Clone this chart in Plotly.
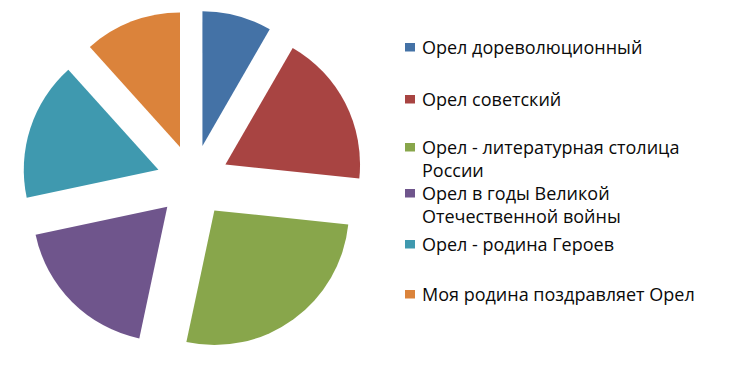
import plotly.graph_objects as go

labels = [
    "Орел дореволюционный",
    "Орел советский",
    "Орел - литературная столица России",
    "Орел в годы Великой Отечественной войны",
    "Орел - родина Героев",
    "Моя родина поздравляет Орел",
]
legend_lines = [
    ["Орел дореволюционный"],
    ["Орел советский"],
    ["Орел - литературная столица", "России"],
    ["Орел в годы Великой", "Отечественной войны"],
    ["Орел - родина Героев"],
    ["Моя родина поздравляет Орел"],
]
values = [5, 11, 16, 11, 10, 7]
colors = ["#4472A6", "#A84442", "#88A64B", "#6F558C", "#3F99AF", "#DB833B"]

# the page body has an 8px margin, so the figure is drawn 8px in from the window edge
OFF = 8
W, H = 753 - OFF, 373 - 2 * OFF


def px_x(x):
    return (x - OFF) / W


def px_y(y):
    return (H - (y - OFF)) / H


cx, cy, half = 193, 181, 171
fig = go.Figure()
fig.add_trace(go.Pie(
    labels=labels,
    values=values,
    sort=False,
    direction="clockwise",
    rotation=0,
    pull=[0.27] * len(values),
    marker=dict(colors=colors, line=dict(width=0)),
    textinfo="none",
    hoverinfo="label+percent",
    domain=dict(x=[px_x(cx - half), px_x(cx + half)],
                y=[max(0, px_y(cy + half)), min(1, px_y(cy - half))]),
    showlegend=False,
))

# legend drawn as text annotations + colour squares
row_y = [47, 99, 147, 193, 244, 294]  # page y of first-line centre
line_h = 23
font = dict(family="'Open Sans', sans-serif", size=18, color="#0A0A0A")
shapes = []
annotations = []
for lines, y0, c in zip(legend_lines, row_y, colors):
    shapes.append(dict(type="rect", xref="paper", yref="paper",
                       x0=px_x(405), x1=px_x(415),
                       y0=px_y(y0 + 4.5), y1=px_y(y0 - 4),
                       fillcolor=c, line=dict(width=0)))
    for k, t in enumerate(lines):
        yc = y0 + k * line_h
        annotations.append(dict(text=t, xref="paper", yref="paper",
                                x=px_x(420), y=px_y(yc),
                                xanchor="left", yanchor="middle",
                                showarrow=False, font=font))

fig.update_layout(
    width=W, height=H,
    margin=dict(l=0, r=0, t=0, b=0),
    paper_bgcolor="white",
    plot_bgcolor="white",
    shapes=shapes,
    annotations=annotations,
)
fig.write_html("out.html")
